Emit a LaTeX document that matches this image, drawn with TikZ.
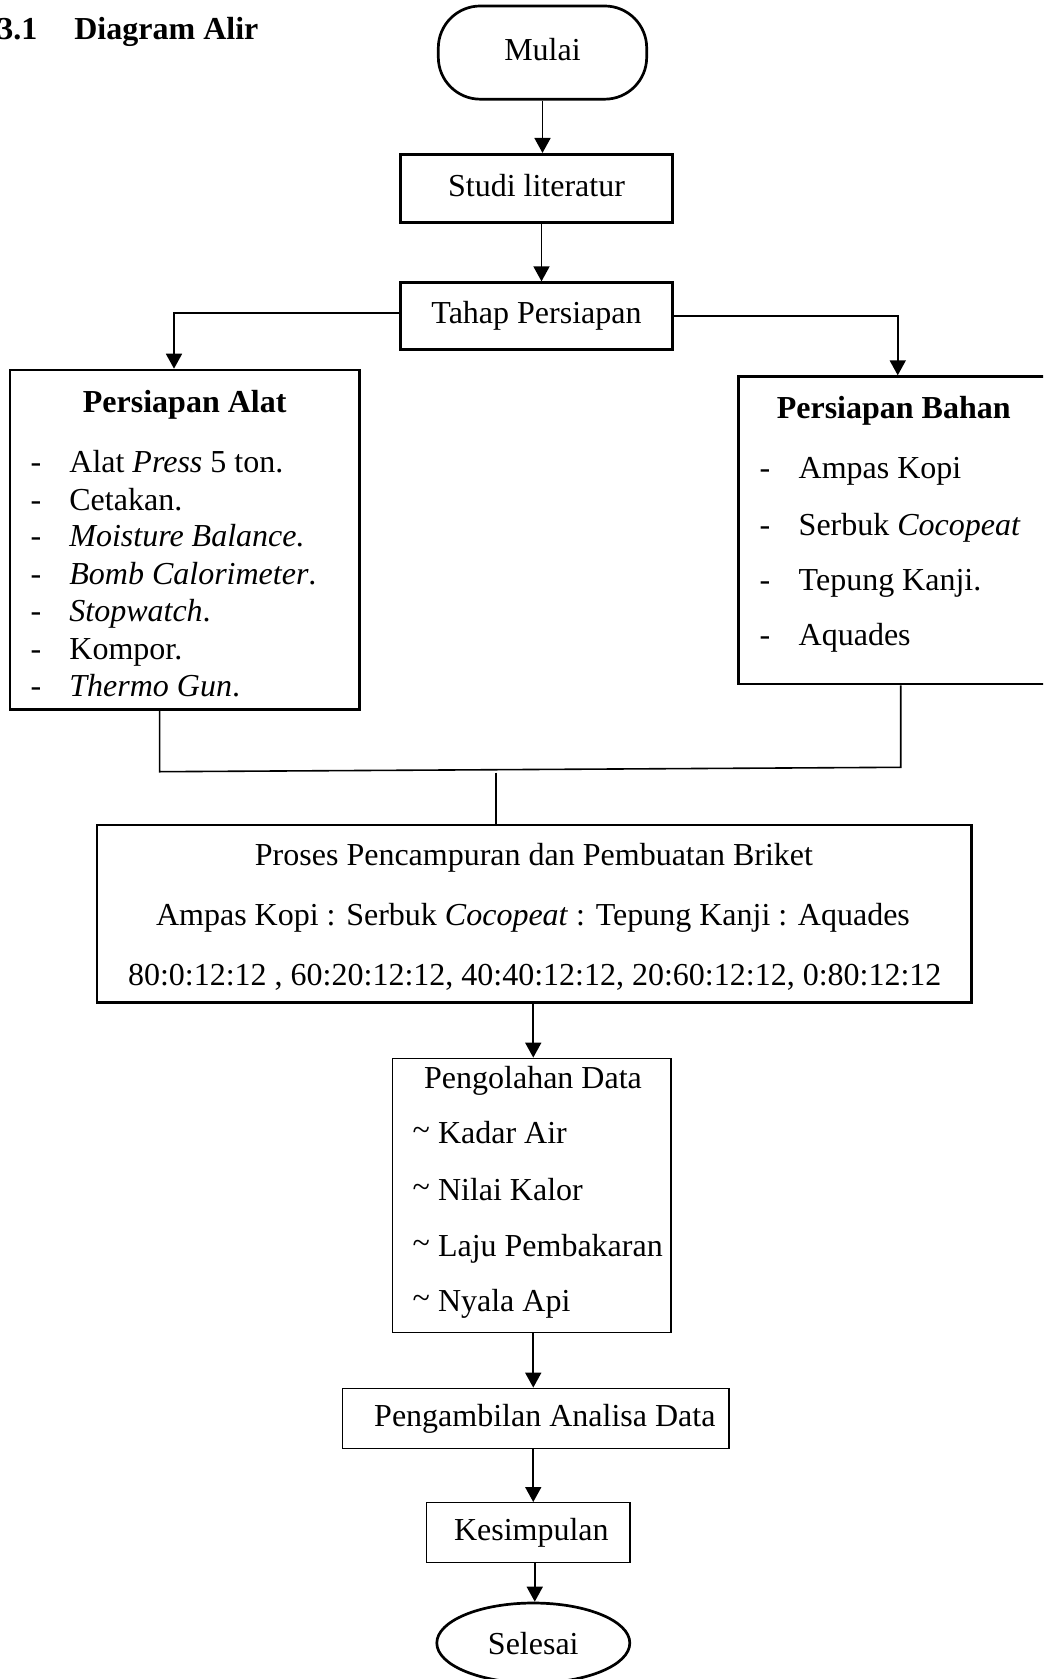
\documentclass[tikz,border=0pt]{standalone}
\usepackage{fontspec}
\setmainfont{Liberation Serif}
\usetikzlibrary{arrows.meta,shapes.geometric}
\newcommand{\tld}{\raisebox{1.5pt}{\textasciitilde}}
\begin{document}
\begin{tikzpicture}[x=0.5pt,y=-0.5pt,
  font=\fontsize{16pt}{19pt}\selectfont,
  thickbox/.style={draw,line width=1.35pt,rectangle,inner sep=0pt,text height=12pt,text depth=4pt},
  thinbox/.style={draw,line width=0.7pt,rectangle,inner sep=0pt,text height=12pt,text depth=4pt},
  txt/.style={inner sep=0pt,anchor=base},
  txtl/.style={inner sep=0pt,anchor=base west},
  arr/.style={line width=0.9pt,-{Triangle[length=7.5pt,width=8pt]}},
  link/.style={line width=0.8pt}]
\useasboundingbox (0,0) rectangle (1043,1679);
\clip (0,0) rectangle (1043,1679);

% title
\node[txtl] (title) at (-3,40) {\bfseries 3.1\hspace*{18.5pt}Diagram Alir};

% boxes
\node[thickbox,rounded corners=21pt,minimum width=104.2pt,minimum height=46.6pt] (mulai) at (542.5,52.6) {Mulai};
\node[thickbox,minimum width=135.8pt,minimum height=34.2pt] (studi) at (536.5,188.5) {Studi literatur};
\node[thickbox,minimum width=135.8pt,minimum height=33.3pt] (tahap) at (536.5,316) {Tahap Persiapan};
\node[thickbox,minimum width=174.65pt,minimum height=169.65pt] (alat) at (184.7,539.7) {};
\node[thickbox,minimum width=160.85pt,minimum height=153.65pt] (bahan) at (899.15,530.3) {};
\node[thickbox,minimum width=437.25pt,minimum height=88.85pt] (proses) at (534.35,913.85) {};
\node[thinbox,minimum width=139.15pt,minimum height=137pt] (olah) at (531.85,1195.3) {};
\node[thinbox,minimum width=193.15pt,minimum height=30pt] (ambil) at (535.85,1418.3) {\hspace*{9pt}Pengambilan Analisa Data};
\node[thinbox,minimum width=101.65pt,minimum height=29.8pt] (simpul) at (528.35,1532.5) {\hspace*{3pt}Kesimpulan};
\node[draw,line width=1.35pt,ellipse,inner sep=0pt,minimum width=96.5pt,minimum height=40pt,text height=14pt,text depth=3pt] (selesai) at (533.3,1643) {Selesai};

% Persiapan Alat text
\node[txt] (alatT) at (184.7,412.7) {\bfseries Persiapan Alat};
\node[txt] (ad1) at (36,472.7) {-};
\node[txt] (ad2) at (36,510) {-};
\node[txt] (ad3) at (36,546.7) {-};
\node[txt] (ad4) at (36,584) {-};
\node[txt] (ad5) at (36,621.7) {-};
\node[txt] (ad6) at (36,659) {-};
\node[txt] (ad7) at (36,696.7) {-};
\node[txtl] (a1) at (69,472.7) {Alat \textit{Press} 5 ton.};
\node[txtl] (a2) at (69,510) {Cetakan.};
\node[txtl] (a3) at (69,546.7) {\textit{Moisture Balance.}};
\node[txtl] (a4) at (69,584) {\textit{Bomb Calorimeter}.};
\node[txtl] (a5) at (69,621.7) {\textit{Stopwatch}.};
\node[txtl] (a6) at (69,659) {Kompor.};
\node[txtl] (a7) at (69,696.7) {\textit{Thermo Gun}.};

% Persiapan Bahan text
\node[txt] (bahanT) at (893.7,418.3) {\bfseries Persiapan Bahan};
\node[txt] (bd1) at (765,478.3) {-};
\node[txt] (bd2) at (765,535) {-};
\node[txt] (bd3) at (765,590.7) {-};
\node[txt] (bd4) at (765,645) {-};
\node[txtl] (b1) at (798.3,478.3) {Ampas Kopi};
\node[txtl] (b2) at (798.3,535) {Serbuk \textit{Cocopeat}};
\node[txtl] (b3) at (798.3,590.7) {Tepung Kanji.};
\node[txtl] (b4) at (798.3,645) {Aquades};

% Proses text
\node[txt] (p1) at (534,865) {Proses Pencampuran dan Pembuatan Briket};
\node[txt] (p2) at (533,925) {Ampas Kopi : Serbuk \textit{Cocopeat} : Tepung Kanji : Aquades};
\node[txt] (p3) at (534.7,985) {80:0:12:12 , 60:20:12:12, 40:40:12:12, 20:60:12:12, 0:80:12:12};

% Pengolahan text
\node[txt] (oT) at (533,1088.3) {Pengolahan Data};
\node[txtl] (o1) at (412.3,1143.3) {\tld\ Kadar Air};
\node[txtl] (o2) at (412.3,1200) {\tld\ Nilai Kalor};
\node[txtl] (o3) at (412.3,1256) {\tld\ Laju Pembakaran};
\node[txtl] (o4) at (412.3,1311.7) {\tld\ Nyala Api};

% connectors
\draw[arr] (mulai.south) -- (mulai.south |- studi.north);
\draw[arr] ([xshift=2.5pt]studi.south) -- ([xshift=2.5pt]tahap.north);
\draw[arr] ([yshift=1.65pt]tahap.west) -| ([xshift=-5.35pt]alat.north);
\draw[arr] (tahap.east) -| ([xshift=-0.7pt]bahan.north);

\coordinate (mL) at (159.6,771.7);
\coordinate (mR) at (900.7,767.3);
\coordinate (mM) at (495.8,772.5);
\draw[link] ([xshift=-12.55pt]alat.south) -- (mL) -- (mR) -- ([xshift=0.78pt]bahan.south);
\draw[link] (mM) -- (mM |- proses.north);

\draw[arr] ([xshift=0.7pt]proses.south -| olah.north) -- ([xshift=0.7pt]olah.north);
\draw[arr] ([xshift=0.7pt]olah.south) -- ([xshift=0.7pt]olah.south |- ambil.north);
\draw[arr] ([xshift=0.7pt]olah.south |- ambil.south) -- ([xshift=0.7pt]olah.south |- simpul.north);
\draw[arr] ([xshift=3.2pt]simpul.south) -- ([xshift=3.2pt]simpul.south |- selesai.north);
\end{tikzpicture}
\end{document}
